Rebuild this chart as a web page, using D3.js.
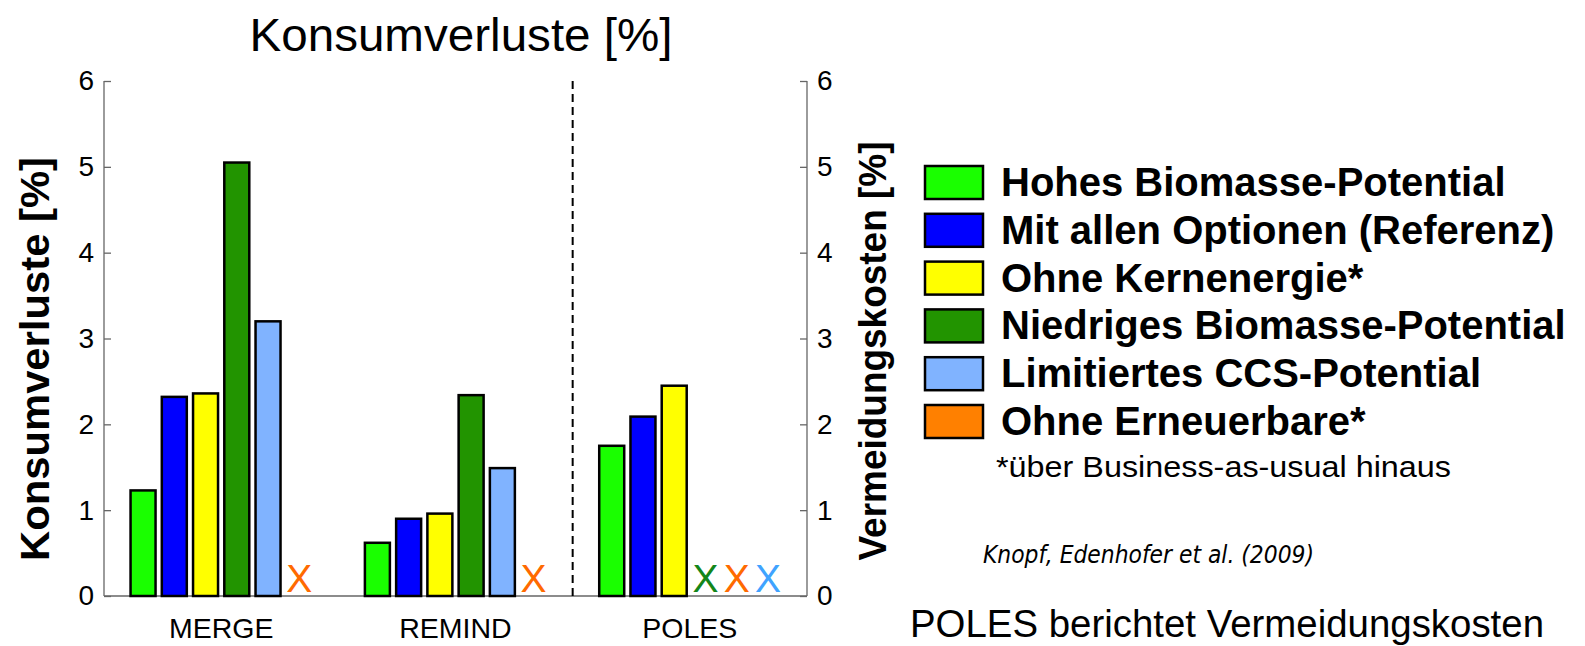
<!DOCTYPE html>
<html lang="de">
<head>
<meta charset="UTF-8" />
<title>Konsumverluste</title>
<script src="https://cdn.jsdelivr.net/npm/d3@7"></script>
<style>
  body { margin: 0; background: #fff; }
  svg { display: block; font-family: "Liberation Sans", Arial, sans-serif; }
  .tick text { font-size: 28px; fill: #000; }
  .axis path, .axis line { stroke: #666; stroke-width: 1.3px; }
</style>
</head>
<body>
<script>

// models on the x axis
var models = ["MERGE", "REMIND", "POLES"];

// scenarios (legend order)
var scenarios = [
  "Hohes Biomasse-Potential",
  "Mit allen Optionen (Referenz)",
  "Ohne Kernenergie*",
  "Niedriges Biomasse-Potential",
  "Limitiertes CCS-Potential",
  "Ohne Erneuerbare*"
];

var barColors = ["#1aff00", "#0000ff", "#ffff00", "#229400", "#80b3ff", "#ff8000"];

// values per scenario for MERGE, REMIND, POLES (null = no result, drawn as X)
var hohesBio   = [1.23, 0.62, 1.75];
var mitAllen   = [2.32, 0.90, 2.09];
var ohneKern   = [2.36, 0.96, 2.45];
var niedrigBio = [5.05, 2.34, null];
var limCCS     = [3.20, 1.49, null];
var ohneErn    = [null, null, null];

var yTicks = [0, 1, 2, 3, 4, 5, 6];

var seriesValues = [hohesBio, mitAllen, ohneKern, niedrigBio, limCCS, ohneErn];

// X marker colours, in the order the X's appear inside a group
var xMarkColors = ["#13861a", "#ff6a00", "#3fa3ff"];

var W = 1585, H = 646;
var plot = { left: 104, right: 807, top: 81, bottom: 596 };

var svg = d3.select("body").append("svg")
  .attr("width", W)
  .attr("height", H);

// group position scale (like matlab x = 1..3)
var x0 = d3.scaleLinear()
  .domain([0.5, 3.5])
  .range([plot.left, plot.right]);

// bar offsets inside a group
var x1 = d3.scaleBand()
  .domain(d3.range(scenarios.length))
  .range([-0.4, 0.4])
  .paddingInner(0.2)
  .paddingOuter(0.1);

var y = d3.scaleLinear()
  .domain([0, 6])
  .range([plot.bottom, plot.top]);

// flat list of bars
var bars = [];
seriesValues.forEach(function(vals, s) {
  vals.forEach(function(v, m) {
    bars.push({ s: s, m: m, v: v });
  });
});

// missing results, with the colour of their X by position in the group
var missing = [];
models.forEach(function(name, m) {
  var k = 0;
  var list = bars.filter(function(d) { return d.m == m && d.v == null; });
  list.forEach(function(d) {
    d.color = list.length == 1 ? xMarkColors[1] : xMarkColors[k++];
    missing.push(d);
  });
});

// title
svg.append("text")
  .attr("x", 461)
  .attr("y", 51)
  .attr("text-anchor", "middle")
  .style("font-size", "46px")
  .attr("textLength", 423)
  .attr("lengthAdjust", "spacingAndGlyphs")
  .text("Konsumverluste [%]");

// left axis
var yAxisL = d3.axisLeft(y).tickValues(yTicks).tickFormat(d3.format("d")).tickSize(-7).tickPadding(10);
svg.append("g")
  .attr("class", "axis")
  .attr("transform", "translate(" + plot.left + ",0)")
  .call(yAxisL)
  .call(function(g) { g.select(".domain").attr("d", "M0," + plot.top + "V" + plot.bottom); });

// right axis
var yAxisR = d3.axisRight(y).tickValues(yTicks).tickFormat(d3.format("d")).tickSize(-7).tickPadding(10);
svg.append("g")
  .attr("class", "axis")
  .attr("transform", "translate(" + plot.right + ",0)")
  .call(yAxisR)
  .call(function(g) { g.select(".domain").attr("d", "M0," + plot.top + "V" + plot.bottom); });

// bottom axis line + model labels
svg.append("line")
  .attr("x1", plot.left)
  .attr("x2", plot.right)
  .attr("y1", y(0))
  .attr("y2", y(0))
  .attr("stroke", "#666")
  .attr("stroke-width", 1.3);

svg.selectAll(".model-label")
  .data(models)
  .enter()
  .append("text")
  .attr("class", "model-label")
  .attr("x", function(d, i) { return x0(i + 1); })
  .attr("y", 638)
  .attr("text-anchor", "middle")
  .style("font-size", "28.5px")
  .text(function(d) { return d; });

// dashed separator between REMIND and POLES
svg.append("line")
  .attr("x1", x0(2.5))
  .attr("x2", x0(2.5))
  .attr("y1", y(6))
  .attr("y2", y(0))
  .attr("stroke", "#000")
  .attr("stroke-width", 2)
  .attr("stroke-dasharray", "8,5");

// bars (zero height where there is no result)
svg.selectAll(".bar")
  .data(bars)
  .enter()
  .append("rect")
  .attr("class", "bar")
  .attr("x", function(d) { return x0(d.m + 1) + (x0(x1(d.s)) - x0(0)); })
  .attr("width", x0(x1.bandwidth()) - x0(0))
  .attr("y", function(d) { return y(d.v == null ? 0 : d.v); })
  .attr("height", function(d) { return d.v == null ? 0 : y(0) - y(d.v); })
  .attr("fill", function(d) { return barColors[d.s]; })
  .attr("stroke", function(d) { return d.v == null ? "#444" : "#000"; })
  .attr("stroke-width", 2.5);

// X markers for missing results
svg.selectAll(".miss")
  .data(missing)
  .enter()
  .append("text")
  .attr("class", "miss")
  .attr("x", function(d) { return x0(d.m + 1) + (x0(x1(d.s) + x1.bandwidth() / 2) - x0(0)); })
  .attr("y", y(0) - 4)
  .attr("text-anchor", "middle")
  .style("font-size", "39px")
  .attr("fill", function(d) { return d.color; })
  .text("X");

// axis titles
svg.append("text")
  .attr("transform", "translate(49,359) rotate(-90)")
  .attr("text-anchor", "middle")
  .style("font-size", "40px")
  .style("font-weight", "bold")
  .attr("textLength", 404)
  .attr("lengthAdjust", "spacingAndGlyphs")
  .text("Konsumverluste [%]");

svg.append("text")
  .attr("transform", "translate(886,351) rotate(-90)")
  .attr("text-anchor", "middle")
  .style("font-size", "38px")
  .style("font-weight", "bold")
  .attr("textLength", 419)
  .attr("lengthAdjust", "spacingAndGlyphs")
  .text("Vermeidungskosten [%]");

// legend
var legend = svg.append("g").attr("transform", "translate(925,182)");
var row = legend.selectAll(".row")
  .data(scenarios)
  .enter()
  .append("g")
  .attr("transform", function(d, i) { return "translate(0," + (i * 47.8) + ")"; });

row.append("rect")
  .attr("x", 0)
  .attr("y", -16)
  .attr("width", 58)
  .attr("height", 33)
  .attr("fill", function(d, i) { return barColors[i]; })
  .attr("stroke", "#000")
  .attr("stroke-width", 2.5);

row.append("text")
  .attr("x", 76)
  .attr("y", 14)
  .style("font-size", "40px")
  .style("font-weight", "bold")
  .text(function(d) { return d; });

svg.append("text")
  .attr("x", 996)
  .attr("y", 477)
  .style("font-size", "30px")
  .attr("textLength", 455)
  .attr("lengthAdjust", "spacingAndGlyphs")
  .text("*über Business-as-usual hinaus");

svg.append("text")
  .attr("x", 983)
  .attr("y", 563)
  .style("font-size", "24px")
  .style("font-style", "italic")
  .style("font-family", "'DejaVu Sans', sans-serif")
  .attr("textLength", 331)
  .attr("lengthAdjust", "spacingAndGlyphs")
  .text("Knopf, Edenhofer et al. (2009)");

svg.append("text")
  .attr("x", 910)
  .attr("y", 637)
  .style("font-size", "39px")
  .attr("textLength", 634)
  .attr("lengthAdjust", "spacingAndGlyphs")
  .text("POLES berichtet Vermeidungskosten");

</script>
</body>
</html>
